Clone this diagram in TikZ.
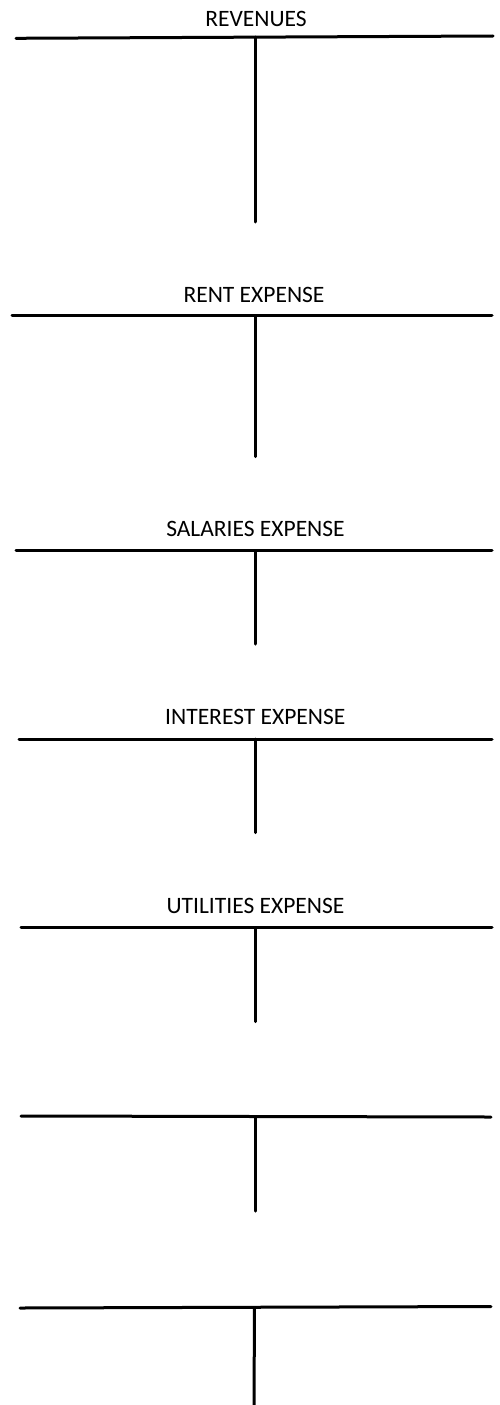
\documentclass[tikz,border=0pt]{standalone}
\usepackage{fontspec}
\setmainfont{Carlito}
\begin{document}
\begin{tikzpicture}[x=1pt,y=-1pt,
  rule/.style={line width=3pt, line cap=round},
  acct/.style={font=\fontsize{23.5}{23.5}\selectfont, inner sep=0pt, anchor=base}]
\useasboundingbox[fill=white] (0,0) rectangle (500,1405);

% T-account 1: Revenues
\node[acct] (t1) at (256,26.5) {REVENUES};
\coordinate (l1) at (16,38.3);
\coordinate (r1) at (493,36);
\coordinate (j1) at (255,37.2);
\coordinate (b1) at (255,222);
\draw[rule] (l1) -- (r1);
\draw[rule] (j1) -- (b1);

% T-account 2: Rent expense
\node[acct] (t2) at (254,302.3) {RENT EXPENSE};
\coordinate (l2) at (12,315.7);
\coordinate (r2) at (492,315.7);
\coordinate (j2) at (255,315.7);
\coordinate (b2) at (255,456.7);
\draw[rule] (l2) -- (r2);
\draw[rule] (j2) -- (b2);

% T-account 3: Salaries expense
\node[acct] (t3) at (255.5,536.7) {SALARIES EXPENSE};
\coordinate (l3) at (16,550.7);
\coordinate (r3) at (492,550.7);
\coordinate (j3) at (255.5,550.7);
\coordinate (b3) at (255.5,644);
\draw[rule] (l3) -- (r3);
\draw[rule] (j3) -- (b3);

% T-account 4: Interest expense
\node[acct] (t4) at (255.3,724) {INTEREST EXPENSE};
\coordinate (l4) at (19,739);
\coordinate (r4) at (492,739);
\coordinate (j4) at (255.5,739);
\coordinate (b4) at (255.5,832.7);
\draw[rule] (l4) -- (r4);
\draw[rule] (j4) -- (b4);

% T-account 5: Utilities expense
\node[acct] (t5) at (255.5,913.3) {UTILITIES EXPENSE};
\coordinate (l5) at (21,927.7);
\coordinate (r5) at (492,927.7);
\coordinate (j5) at (255.5,927.7);
\coordinate (b5) at (255.5,1021.7);
\draw[rule] (l5) -- (r5);
\draw[rule] (j5) -- (b5);

% T-account 6: untitled
\coordinate (l6) at (21,1116);
\coordinate (r6) at (491,1117);
\coordinate (j6) at (255.5,1116.5);
\coordinate (b6) at (255.5,1211);
\draw[rule] (l6) -- (r6);
\draw[rule] (j6) -- (b6);

% T-account 7: untitled, runs off the bottom edge
\coordinate (l7) at (20,1308);
\coordinate (r7) at (491,1306.5);
\coordinate (j7) at (254.5,1307.3);
\coordinate (b7) at (254,1405);
\draw[rule] (l7) -- (r7);
\draw[rule, line cap=butt] (j7) -- (b7);
\end{tikzpicture}
\end{document}
